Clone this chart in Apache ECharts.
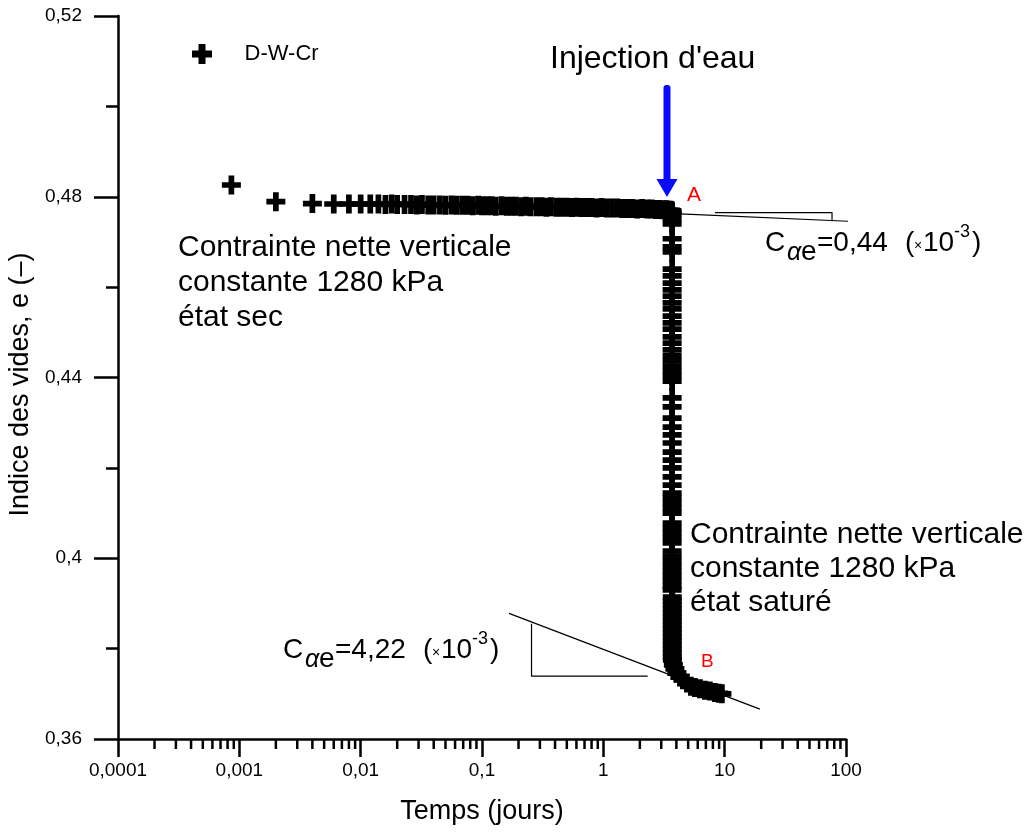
<!DOCTYPE html>
<html><head><meta charset="utf-8">
<script src="https://cdn.jsdelivr.net/npm/echarts@6/dist/echarts.min.js"></script>
<style>html,body{margin:0;padding:0;background:#fff}#c{width:1032px;height:832px}</style>
</head><body><div id="c"></div>
<script>
const seriesName = 'D-W-Cr';
// dry state (constant net vertical stress)
const timeDry = [0.00086, 0.002, 0.004, 0.006, 0.008, 0.010, 0.012, 0.014, 0.016, 0.018, 0.020,
  0.023, 0.026, 0.029, 0.032, 0.036, 0.040, 0.045, 0.050, 0.056, 0.062, 0.069, 0.076, 0.084, 0.093,
  0.10, 0.11, 0.12, 0.13, 0.145, 0.16, 0.175, 0.19, 0.21, 0.23, 0.25, 0.28, 0.31, 0.34, 0.37, 0.41, 0.45,
  0.50, 0.55, 0.60, 0.66, 0.73, 0.80, 0.88, 0.97, 1.07, 1.18, 1.30, 1.43,
  1.57, 1.73, 1.90, 2.09, 2.30, 2.50, 2.70, 2.90, 3.10, 3.30, 3.45, 3.58, 3.66, 3.69];
const voidDry = [0.4826, 0.4789, 0.4785, 0.4784, 0.4784, 0.4784, 0.4784, 0.4784, 0.4783, 0.4784, 0.4783,
  0.4783, 0.4783, 0.4782, 0.4783, 0.4782, 0.4782, 0.4782, 0.4781, 0.4782, 0.4781, 0.4781, 0.4781, 0.4780, 0.4781,
  0.4780, 0.4780, 0.4780, 0.4779, 0.4780, 0.4779, 0.4779, 0.4779, 0.4778, 0.4779, 0.4778, 0.4778, 0.4778, 0.4777, 0.4778, 0.4777, 0.4777,
  0.4777, 0.4776, 0.4777, 0.4776, 0.4776, 0.4776, 0.4775, 0.4776, 0.4775, 0.4775, 0.4775, 0.4774,
  0.4774, 0.4774, 0.4773, 0.4774, 0.4773, 0.4773, 0.4772, 0.4772, 0.4771, 0.4771, 0.4770, 0.4770, 0.4769, 0.4767];
// after water injection (saturated state)
const timeWet = [3.69, 3.69, 3.69, 3.69, 3.69, 3.69, 3.69, 3.69, 3.69, 3.69, 3.69, 3.69, 3.69, 3.69, 3.69,
  3.69, 3.69, 3.69, 3.69, 3.69, 3.69, 3.69, 3.69, 3.69, 3.69, 3.69, 3.69, 3.69, 3.69, 3.69,
  3.69, 3.69, 3.69, 3.69, 3.69, 3.69, 3.69, 3.69, 3.69, 3.69, 3.69, 3.69, 3.69, 3.69, 3.69,
  3.69, 3.69, 3.69, 3.69, 3.69, 3.69, 3.69, 3.69, 3.69, 3.69,
  3.70, 3.70, 3.70, 3.70, 3.70, 3.70, 3.70, 3.70, 3.70, 3.70, 3.70, 3.70, 3.70, 3.70, 3.70, 3.70,
  3.708, 3.779, 3.888, 4.039, 4.275, 4.526, 4.883, 5.268, 5.684, 6.251, 6.873, 7.556, 8.309, 8.966, 9.491];
const voidWet = [0.4762, 0.4751, 0.4740, 0.4707, 0.4689, 0.4678, 0.4640, 0.4625, 0.4609, 0.4594, 0.4580, 0.4565, 0.4552, 0.4536, 0.4521,
  0.4507, 0.4490, 0.4476, 0.4461, 0.4448, 0.4437, 0.4425, 0.4414, 0.4403, 0.4392, 0.4355, 0.4335, 0.4310, 0.4290, 0.4273,
  0.4255, 0.4235, 0.4217, 0.4200, 0.4180, 0.4162, 0.4144, 0.4133, 0.4122, 0.4111, 0.4100, 0.4078, 0.4067, 0.4056, 0.4045,
  0.4034, 0.4016, 0.4005, 0.3994, 0.3983, 0.3972, 0.3961, 0.3950, 0.3939, 0.3930,
  0.3914, 0.3905, 0.3897, 0.3888, 0.3879, 0.3870, 0.3861, 0.3852, 0.3843, 0.3835, 0.3826, 0.3817, 0.3808, 0.3799, 0.3790, 0.3781,
  0.3775, 0.3764, 0.3755, 0.3746, 0.3737, 0.3731, 0.3724, 0.3717, 0.3714, 0.3711, 0.3708, 0.3706, 0.3703, 0.3701, 0.3700];

const xTickValues = [0.0001, 0.001, 0.01, 0.1, 1, 10, 100];
const xTickLabels = ['0,0001', '0,001', '0,01', '0,1', '1', '10', '100'];
const xMinorMultipliers = [2, 3, 4, 5, 6, 7, 8, 9];
const yTickValues = [0.36, 0.40, 0.44, 0.48, 0.52];
const yTickLabels = ['0,36', '0,4', '0,44', '0,48', '0,52'];

// slope construction lines
const tangentATime = [4.28, 149];
const tangentAVoid = [0.4762, 0.4744];
const triangleATime = [8.31, 76.7, 76.7];
const triangleAVoid = [0.4765, 0.4765, 0.4746];
const tangentBTime = [0.167, 19.5];
const tangentBVoid = [0.3878, 0.3666];
const triangleBTime = [0.256, 0.256, 2.32];
const triangleBVoid = [0.3855, 0.3739, 0.3739];

const FONT = "'Liberation Sans', Arial, Helvetica, sans-serif";
const PLUS = 'path://M6.5,0H13.5V6.5H20V13.5H13.5V20H6.5V13.5H0V6.5H6.5Z';
const PLUS_DATA = 'path://M7,0H13V7H20V13H13V20H7V13H0V7H7Z';

function zip(a, b) { return a.map((v, i) => [v, b[i]]); }
function fmtX(v) {
  for (let i = 0; i < xTickValues.length; i++) {
    if (Math.abs(Math.log10(v) - Math.log10(xTickValues[i])) < 1e-6) return xTickLabels[i];
  }
  return '';
}
function fmtY(v) {
  for (let i = 0; i < yTickValues.length; i++) {
    if (Math.abs(v - yTickValues[i]) < 1e-7) return yTickLabels[i];
  }
  return '';
}
const minorTicks = [];
xTickValues.slice(0, -1).forEach(d => xMinorMultipliers.forEach(m => minorTicks.push([d * m, 0.36])));

function txt(x, y, s, size, extra) {
  return {
    type: 'text', x: x, y: y, silent: true, z: 100,
    style: Object.assign({
      text: s, fontSize: size, fontFamily: FONT, fill: '#000',
      align: 'left', verticalAlign: 'middle', textAlign: 'left', textVerticalAlign: 'middle'
    }, extra || {})
  };
}
function caeLabel(x0, yb, value) {
  const m = yb - 9.8;
  return [
    txt(x0, m, 'C', 28),
    txt(x0 + 22, yb + 9 - 8.8, 'α', 25, { fontStyle: 'italic' }),
    txt(x0 + 36, yb + 9 - 9.5, 'e', 28),
    txt(x0 + 52, m, '=' + value, 28),
    txt(x0 + 140, m, '(', 28),
    txt(x0 + 149, yb - 7, '×', 14),
    txt(x0 + 158, m, '10', 28),
    txt(x0 + 189, yb - 15 - 6.3, '-3', 18),
    txt(x0 + 207, m, ')', 28)
  ];
}

const chart = echarts.init(document.getElementById('c'), null, { renderer: 'canvas' });
const lineStyleThin = { color: '#000', width: 1.2 };
const option = {
  backgroundColor: '#fff',
  animation: false,
  textStyle: { fontFamily: FONT },
  grid: { left: 118, top: 16, width: 728, height: 723, containLabel: false, outerBoundsMode: 'none' },
  legend: {
    data: [{ name: seriesName, icon: PLUS }],
    left: 192, top: 43, padding: 0,
    itemWidth: 21, itemHeight: 20,
    selectedMode: false,
    textStyle: { fontSize: 22, color: '#000', fontFamily: FONT, padding: [0, 0, 0, 27] }
  },
  xAxis: {
    type: 'log', logBase: 10, min: 0.0001, max: 100, splitNumber: 6,
    name: 'Temps (jours)', nameLocation: 'middle', nameGap: 59,
    nameTextStyle: { fontSize: 27, color: '#000', fontFamily: FONT },
    axisLine: { show: true, onZero: false, lineStyle: { color: '#000', width: 2.5 } },
    axisTick: { show: true, inside: false, length: 18, lineStyle: { color: '#000', width: 2.5 } },
    axisLabel: { formatter: fmtX, fontSize: 19, color: '#000', margin: 22, fontFamily: FONT, showMinLabel: true, showMaxLabel: true },
    splitLine: { show: false }, minorTick: { show: false }
  },
  yAxis: {
    type: 'value', min: 0.36, max: 0.52, interval: 0.04,
    name: 'Indice des vides, e (–)', nameLocation: 'middle', nameGap: 84,
    nameTextStyle: { fontSize: 27, color: '#000', fontFamily: FONT, padding: [0, 14, 0, 0] },
    axisLine: { show: true, onZero: false, lineStyle: { color: '#000', width: 2.5 } },
    axisTick: { show: true, inside: false, length: 24, lineStyle: { color: '#000', width: 2.5 } },
    minorTick: { show: true, splitNumber: 2, length: 12, lineStyle: { color: '#000', width: 2.5 } },
    axisLabel: { formatter: fmtY, fontSize: 19, color: '#000', margin: 36, fontFamily: FONT },
    splitLine: { show: false }
  },
  series: [
    {
      name: 'minorX', type: 'custom', silent: true, clip: false, z: 3,
      data: minorTicks, encode: { x: 0, y: 1 },
      renderItem: function (params, api) {
        const p = api.coord([api.value(0), api.value(1)]);
        return { type: 'line', shape: { x1: p[0], y1: p[1], x2: p[0], y2: p[1] + 10 },
          style: { stroke: '#000', lineWidth: 2.5 } };
      }
    },
    { name: 'tA', type: 'line', data: zip(tangentATime, tangentAVoid), showSymbol: false, symbol: 'none', clip: false, lineStyle: lineStyleThin, z: 2, silent: true },
    { name: 'triA', type: 'line', data: zip(triangleATime, triangleAVoid), showSymbol: false, symbol: 'none', clip: false, lineStyle: lineStyleThin, z: 2, silent: true },
    { name: 'tB', type: 'line', data: zip(tangentBTime, tangentBVoid), showSymbol: false, symbol: 'none', clip: false, lineStyle: lineStyleThin, z: 2, silent: true },
    { name: 'triB', type: 'line', data: zip(triangleBTime, triangleBVoid), showSymbol: false, symbol: 'none', clip: false, lineStyle: lineStyleThin, z: 2, silent: true },
    {
      name: seriesName, type: 'scatter', symbol: PLUS_DATA, symbolSize: 19, z: 5,
      itemStyle: { color: '#000', opacity: 1 },
      data: zip(timeDry, voidDry).concat(zip(timeWet, voidWet)),
      clip: false, silent: true
    }
  ],
  graphic: [
    txt(550, 59.5, "Injection d'eau", 32),
    { type: 'rect', shape: { x: 663.5, y: 85, width: 7, height: 97, r: 3 }, style: { fill: '#0a0aff' }, z: 100, silent: true },
    { type: 'polygon', shape: { points: [[656.5, 179], [677.5, 179], [667, 197]] }, style: { fill: '#0a0aff' }, z: 100, silent: true },
    txt(687, 195.5, 'A', 21, { fill: '#ff0000' }),
    txt(701, 661.5, 'B', 19, { fill: '#ff0000' }),
    txt(178, 248, 'Contrainte nette verticale', 30),
    txt(178, 283, 'constante 1280 kPa', 30),
    txt(178, 318, 'état sec', 30),
    txt(690, 535, 'Contrainte nette verticale', 30),
    txt(690, 569, 'constante 1280 kPa', 30),
    txt(690, 603, 'état saturé', 30)
  ].concat(caeLabel(765, 253, '0,44')).concat(caeLabel(283, 660, '4,22'))
};
chart.setOption(option);
</script>
</body></html>
